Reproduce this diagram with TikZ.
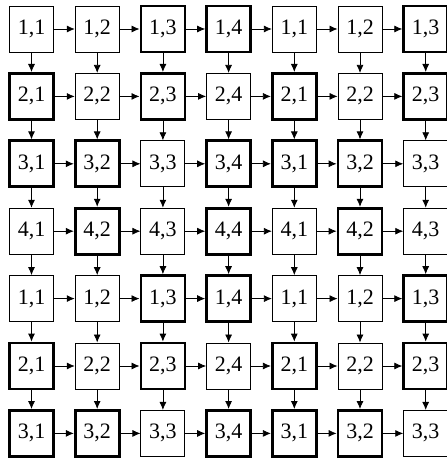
\documentclass[tikz,border=0pt]{standalone}
\usepackage{fontspec}
\setmainfont{Liberation Serif}
\usetikzlibrary{arrows.meta}

\begin{document}
\begin{tikzpicture}[x=1pt, y=-1pt, >={Latex[length=8pt,width=7pt]},
    cell/.style={draw, line width=0.9pt, minimum width=44pt, minimum height=46pt,
      inner sep=0pt, font=\fontsize{22}{24}\selectfont},
    link/.style={->, line width=0.8pt}]
    \useasboundingbox (0,0) rectangle (446,462);

    % 7x7 cells, labels i,j repeat with period 4; heavy frame from the pattern list
    \foreach \r in {1,...,7}{
      \foreach \c in {1,...,7}{
        \pgfmathtruncatemacro{\i}{mod(\r-1,4)+1}
        \pgfmathtruncatemacro{\j}{mod(\c-1,4)+1}
        \pgfmathtruncatemacro{\w}{{0,0,1,1,1,0,1,0,1,1,0,1,0,1,0,1}[4*(\i-1)+\j-1]}
        \pgfmathsetmacro{\lw}{\w==1 ? 2.8 : 0.9}
        \node[cell, line width=\lw pt] (b-\r-\c) at ({31.5+65.7*(\c-1)}, {29+67.4*(\r-1)}) {\i,\j};
      }
    }

    % arrows to the right
    \foreach \r in {1,...,7}{
      \foreach \c [evaluate=\c as \n using int(\c+1)] in {1,...,6}{
        \draw[link] (b-\r-\c.east) -- (b-\r-\n.west);
      }
    }

    % arrows downwards
    \foreach \r [evaluate=\r as \n using int(\r+1)] in {1,...,6}{
      \foreach \c in {1,...,7}{
        \draw[link] (b-\r-\c.south) -- (b-\n-\c.north);
      }
    }
\end{tikzpicture}
\end{document}
